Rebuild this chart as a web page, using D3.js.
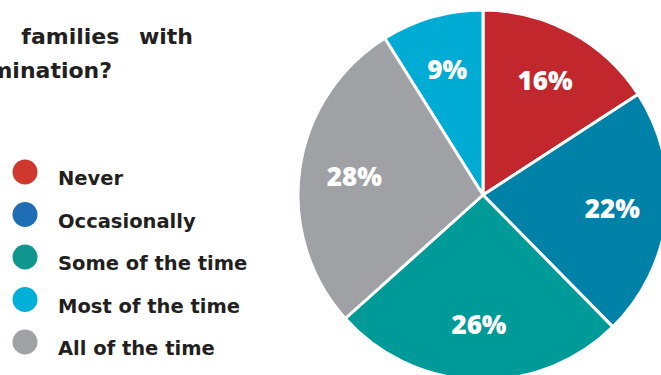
<!DOCTYPE html>
<html>
<head>
<meta charset="utf-8">
<script src="https://cdn.jsdelivr.net/npm/d3@7"></script>
<style>
  html, body { margin: 0; padding: 0; background: #ffffff; }
  svg { display: block; }
</style>
</head>
<body>
<svg id="chart" width="661" height="375"></svg>
<script>
// ---- data ----
const categories = ["Never", "Occasionally", "Some of the time", "Most of the time", "All of the time"];
const values = [16, 22, 26, 9, 28];
const valueLabels = ["16%", "22%", "26%", "9%", "28%"];
const pieOrder = ["Never", "Occasionally", "Some of the time", "All of the time", "Most of the time"];
const pieColors = ["#C1272D", "#0081A7", "#009B98", "#00ACD3", "#A0A1A5"];
const legendColors = ["#CD392C", "#1F6DB5", "#10968F", "#00B0D6", "#A0A1A5"];
const titleLines = ["families with", "face discrimination?"];
const titlePrefix = "Do children in";

const svg = d3.select("#chart");
const font = "'DejaVu Sans', sans-serif";
const labelFont = "'Open Sans', 'DejaVu Sans', sans-serif";
const textColor = "#231F20";

const data = categories.map((c, i) => ({ cat: c, value: values[i], label: valueLabels[i], pie: pieColors[i], leg: legendColors[i] }));

// ---- title (cropped at left like the reference) ----
const titleEnds = [193, 112];
const titleBase = d3.scaleLinear().domain([0, 1]).range([44, 78]);
const titleG = svg.append("g")
  .attr("font-family", font)
  .attr("font-weight", 700)
  .attr("font-size", 22)
  .attr("fill", textColor);
titleG.append("text")
  .attr("x", -15).attr("y", titleBase(0))
  .attr("text-anchor", "end")
  .text(titlePrefix);
titleG.selectAll("text.title").data(titleLines).join("text")
  .attr("class", "title")
  .attr("x", (d, i) => titleEnds[i])
  .attr("y", (d, i) => titleBase(i))
  .attr("text-anchor", "end")
  .attr("word-spacing", (d, i) => i === 0 ? 12 : 0)
  .text(d => d);

// ---- legend ----
const ly = d3.scalePoint().domain(categories).range([172, 342]);
const lg = svg.append("g");
const items = lg.selectAll("g").data(data).join("g")
  .attr("transform", d => `translate(0,${ly(d.cat)})`);
items.append("circle").attr("cx", 25).attr("cy", 0).attr("r", 12.5).attr("fill", d => d.leg);
items.append("text")
  .attr("x", 58).attr("y", 13)
  .attr("font-family", font).attr("font-weight", 700).attr("font-size", 19.5)
  .attr("fill", textColor)
  .text(d => d.cat);

// ---- pie ----
const cx = 483, cy = 195, R = 185;
const pie = d3.pie().value(d => d.value)
  .sort((a, b) => pieOrder.indexOf(a.cat) - pieOrder.indexOf(b.cat));
const arcs = pie(data);
const arc = d3.arc().innerRadius(0).outerRadius(R);
const labelArc = d3.arc().innerRadius(130).outerRadius(130);
const pg = svg.append("g").attr("transform", `translate(${cx},${cy})`);
pg.selectAll("path").data(arcs).join("path")
  .attr("d", arc)
  .attr("fill", d => d.data.pie)
  .attr("stroke", "#ffffff")
  .attr("stroke-width", 3)
  .attr("stroke-linejoin", "round");
pg.selectAll("text").data(arcs).join("text")
  .attr("transform", d => `translate(${labelArc.centroid(d)})`)
  .attr("text-anchor", "middle")
  .attr("dy", "0.36em")
  .attr("font-family", labelFont).attr("font-weight", 800).attr("font-size", 26)
  .attr("fill", "#ffffff")
  .text(d => d.data.label);
</script>
</body>
</html>
